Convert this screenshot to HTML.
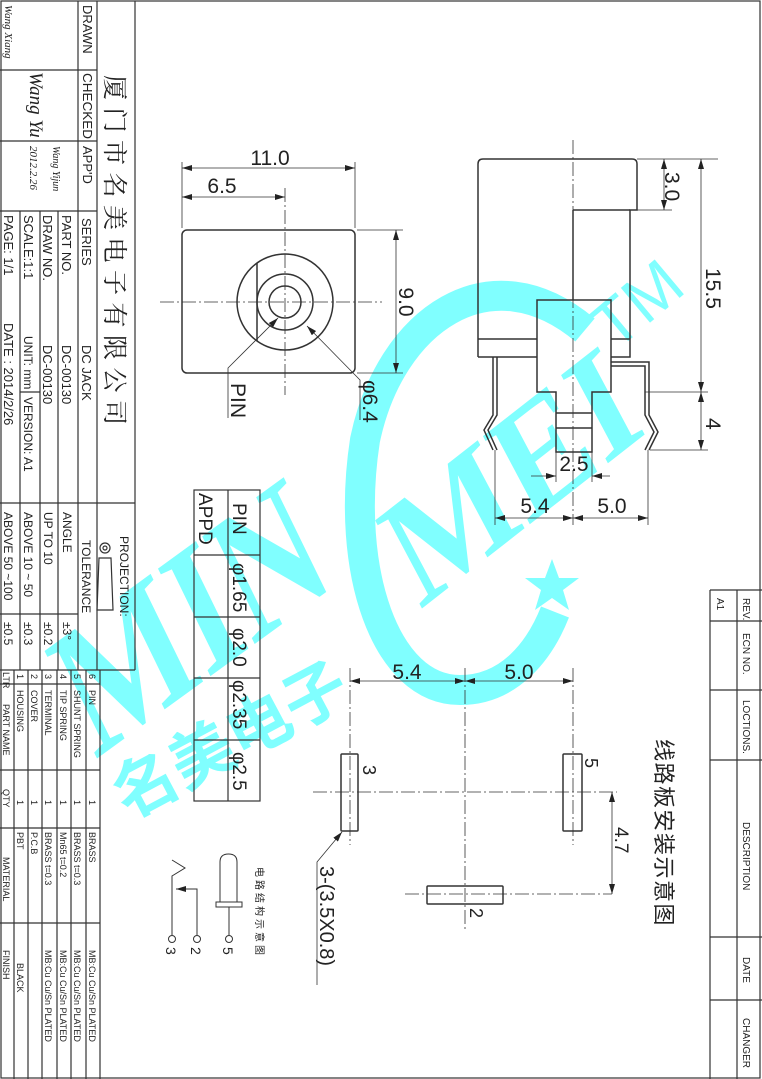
<!DOCTYPE html>
<html><head><meta charset="utf-8"><style>
html,body{margin:0;padding:0;background:#fff}
svg{display:block}
text{font-family:"Liberation Sans","Noto Sans CJK SC",sans-serif;fill:#222}
</style></head><body>
<svg width="762" height="1079" viewBox="0 0 762 1079" xmlns="http://www.w3.org/2000/svg">
<defs>
<marker id="a" viewBox="0 0 10 6" refX="10" refY="3" markerWidth="10" markerHeight="6" orient="auto-start-reverse" markerUnits="userSpaceOnUse"><path d="M0,0 L10,3 L0,6z" fill="#222"/></marker>
</defs>
<!-- watermark -->
<g fill="#80ffff">
<text x="0" y="0" font-weight="bold" font-size="180" textLength="300" lengthAdjust="spacingAndGlyphs" transform="translate(95,760) rotate(-36) skewX(-10)" style="fill:#80ffff;font-family:'Liberation Serif',serif">MIN</text>
<text x="0" y="0" font-weight="bold" font-size="150" textLength="290" lengthAdjust="spacingAndGlyphs" transform="translate(420,610) rotate(-38) skewX(-10)" style="fill:#80ffff;font-family:'Liberation Serif',serif">MEI</text>
<text x="0" y="0" font-size="66" transform="translate(615,352) rotate(-40)" style="fill:#80ffff">TM</text>
<text x="0" y="0" font-size="64" font-weight="bold" transform="translate(128,820) rotate(-28)" style="fill:#80ffff;font-family:'Noto Sans CJK SC',sans-serif">名美电子</text>
<path d="M552,559 L559,578 L579,578 L563,590 L569,610 L552,598 L535,610 L541,590 L525,578 L545,578z"/>
</g>
<path d="M585,330 C490,250 390,320 365,440 C345,570 385,690 460,690 C510,690 540,650 555,612" fill="none" stroke="#80ffff" stroke-width="30"/>

<g stroke="#333" fill="none" stroke-width="1.2">
<rect x="1" y="1" width="759" height="1077"/>
<line x1="135" y1="1" x2="135" y2="670"/>
<line x1="97" y1="1" x2="97" y2="670"/>
<line x1="78" y1="1" x2="78" y2="670"/>
<line x1="0" y1="70" x2="97" y2="70"/>
<line x1="0" y1="141" x2="97" y2="141"/>
<line x1="0" y1="211" x2="97" y2="211"/>
<line x1="58" y1="211" x2="58" y2="670"/>
<line x1="40" y1="211" x2="40" y2="670"/>
<line x1="20" y1="211" x2="20" y2="670"/>
<line x1="20" y1="392" x2="40" y2="392"/>
<line x1="0" y1="503" x2="135" y2="503"/>
<line x1="0" y1="614" x2="78" y2="614"/>
<line x1="0" y1="670" x2="135" y2="670"/>
<line x1="100" y1="670" x2="100" y2="1079"/>
<line x1="14" y1="670" x2="14" y2="1079"/>
<line x1="28" y1="670" x2="28" y2="1079"/>
<line x1="42" y1="670" x2="42" y2="1079"/>
<line x1="57" y1="670" x2="57" y2="1079"/>
<line x1="71" y1="670" x2="71" y2="1079"/>
<line x1="86" y1="670" x2="86" y2="1079"/>
<line x1="0" y1="684" x2="100" y2="684"/>
<line x1="0" y1="770" x2="100" y2="770"/>
<line x1="0" y1="828" x2="100" y2="828"/>
<line x1="0" y1="923" x2="100" y2="923"/>
<line x1="710" y1="590" x2="710" y2="1079"/>
<line x1="737" y1="590" x2="737" y2="1079"/>
<line x1="710" y1="590" x2="762" y2="590"/>
<line x1="710" y1="621" x2="762" y2="621"/>
<line x1="710" y1="690" x2="762" y2="690"/>
<line x1="710" y1="760" x2="762" y2="760"/>
<line x1="710" y1="937" x2="762" y2="937"/>
<line x1="710" y1="1000" x2="762" y2="1000"/>
<rect x="194" y="490" width="66" height="311"/>
<line x1="228" y1="490" x2="228" y2="801"/>
<line x1="194" y1="555" x2="260" y2="555"/>
<line x1="194" y1="617" x2="260" y2="617"/>
<line x1="194" y1="678" x2="260" y2="678"/>
<line x1="194" y1="740" x2="260" y2="740"/>
<circle cx="105" cy="548" r="5"/><circle cx="105" cy="548" r="2"/>
<path d="M99,558 L111,558 L113,610 L97,610z"/>
</g>

<!-- front view -->
<g stroke="#333" fill="none" stroke-width="1.5">
<rect x="182" y="230" width="173" height="143" rx="5"/>
<circle cx="285" cy="302" r="48"/>
<circle cx="285" cy="302" r="28"/>
<circle cx="285" cy="302" r="16"/>
<line x1="257" y1="263" x2="257" y2="341"/>
</g>
<g stroke="#333" stroke-width="0.8" fill="none">
<line x1="160" y1="302" x2="382" y2="302" stroke-dasharray="14 3 2 3"/>
<line x1="285" y1="188" x2="285" y2="395" stroke-dasharray="14 3 2 3"/>
<line x1="182" y1="162" x2="182" y2="228"/>
<line x1="355" y1="162" x2="355" y2="228"/>
<line x1="182" y1="168" x2="355" y2="168" marker-start="url(#a)" marker-end="url(#a)"/>
<line x1="182" y1="197" x2="285" y2="197" marker-start="url(#a)" marker-end="url(#a)"/>
<line x1="357" y1="230" x2="403" y2="230"/>
<line x1="357" y1="373" x2="403" y2="373"/>
<line x1="396" y1="230" x2="396" y2="373" marker-start="url(#a)" marker-end="url(#a)"/>
<polyline points="228,418 228,368 278,318" marker-end="url(#a)"/>
<polyline points="360,420 360,380 307,326" marker-end="url(#a)"/>
</g>
<g font-size="21">
<text x="270" y="165" text-anchor="middle">11.0</text>
<text x="222" y="193" text-anchor="middle">6.5</text>
<text transform="translate(399,302) rotate(90)" text-anchor="middle">9.0</text>
<text transform="translate(231,383) rotate(90)">PIN</text>
<text transform="translate(363,380) rotate(90)">φ6.4</text>
</g>

<!-- side view -->
<g stroke="#333" fill="none" stroke-width="1.5">
<path d="M478,357 V164 Q478,159 483,159 H632 Q637,159 637,164 V210 H630 V357 H611"/>
<path d="M478,357 H537"/>
<line x1="573" y1="210" x2="630" y2="210"/>
<line x1="573" y1="210" x2="573" y2="300"/>
<line x1="478" y1="339" x2="537" y2="339"/>
<line x1="611" y1="339" x2="630" y2="339"/>
<path d="M537,300 H611 V392 H592 V452 H556 V392 H537z"/>
<line x1="556" y1="413" x2="592" y2="413"/>
<line x1="556" y1="428" x2="592" y2="428"/>
<path d="M493,357 V415 L484,430 L493,450"/>
<path d="M497,357 V415 L488,430 L497,450"/>
<path d="M611,362 H649 V415 L658,432 L649,450"/>
<path d="M611,366 H645 V415 L654,432 L645,450"/>
</g>
<g stroke="#333" stroke-width="0.8" fill="none">
<line x1="573" y1="140" x2="573" y2="525" stroke-dasharray="14 3 2 3"/>
<line x1="637" y1="159" x2="718" y2="159"/>
<line x1="637" y1="210" x2="672" y2="210"/>
<line x1="664" y1="159" x2="664" y2="210" marker-start="url(#a)" marker-end="url(#a)"/>
<line x1="701" y1="159" x2="701" y2="392" marker-start="url(#a)" marker-end="url(#a)"/>
<line x1="645" y1="392" x2="708" y2="392"/>
<line x1="650" y1="450" x2="708" y2="450"/>
<line x1="701" y1="392" x2="701" y2="450" marker-start="url(#a)" marker-end="url(#a)"/>
<line x1="556" y1="452" x2="556" y2="482"/>
<line x1="592" y1="452" x2="592" y2="482"/>
<line x1="531" y1="476" x2="556" y2="476" marker-end="url(#a)"/>
<line x1="610" y1="476" x2="592" y2="476" marker-end="url(#a)"/>
<line x1="495" y1="450" x2="495" y2="525"/>
<line x1="648" y1="450" x2="648" y2="525"/>
<line x1="495" y1="518" x2="573" y2="518" marker-start="url(#a)" marker-end="url(#a)"/>
<line x1="573" y1="518" x2="648" y2="518" marker-start="url(#a)" marker-end="url(#a)"/>
</g>
<g font-size="21">
<text transform="translate(665,172) rotate(90)">3.0</text>
<text transform="translate(706,268) rotate(90)">15.5</text>
<text transform="translate(706,418) rotate(90)">4</text>
<text x="574" y="471" text-anchor="middle">2.5</text>
<text x="535" y="513" text-anchor="middle">5.4</text>
<text x="612" y="513" text-anchor="middle">5.0</text>
</g>

<!-- PCB layout -->
<g stroke="#333" stroke-width="0.8" fill="none">
<line x1="350" y1="668" x2="350" y2="845" stroke-dasharray="14 3 2 3"/>
<line x1="465" y1="668" x2="465" y2="932" stroke-dasharray="14 3 2 3"/>
<line x1="573" y1="668" x2="573" y2="845" stroke-dasharray="14 3 2 3"/>
<line x1="313" y1="792" x2="617" y2="792" stroke-dasharray="14 3 2 3"/>
<line x1="405" y1="894" x2="612" y2="894" stroke-dasharray="14 3 2 3"/>
<line x1="350" y1="681" x2="465" y2="681" marker-start="url(#a)" marker-end="url(#a)"/>
<line x1="465" y1="681" x2="573" y2="681" marker-start="url(#a)" marker-end="url(#a)"/>
<line x1="612" y1="792" x2="612" y2="894" marker-start="url(#a)" marker-end="url(#a)"/>
<polyline points="317,985 317,862 342,832" marker-end="url(#a)"/>
</g>
<g stroke="#333" stroke-width="1.5" fill="none">
<rect x="341" y="754" width="17" height="77" rx="1"/>
<rect x="563" y="754" width="19" height="77" rx="1"/>
<rect x="427" y="886" width="76" height="18" rx="1"/>
</g>
<g font-size="21">
<text x="407" y="679" text-anchor="middle">5.4</text>
<text x="519" y="679" text-anchor="middle">5.0</text>
<text transform="translate(363,765) rotate(90)" font-size="18">3</text>
<text transform="translate(585,758) rotate(90)" font-size="18">5</text>
<text transform="translate(470,908) rotate(90)" font-size="18">2</text>
<text transform="translate(615,827) rotate(90)" font-size="19">4.7</text>
<text transform="translate(320,866) rotate(90)" font-size="20">3-(3.5X0.8)</text>
<text transform="translate(656,739) rotate(90)" font-size="22" letter-spacing="1.5">线路板安装示意图</text>
</g>

<!-- schematic -->
<g stroke="#333" stroke-width="1" fill="none">
<circle cx="172" cy="939" r="3.5"/><circle cx="197" cy="939" r="3.5"/><circle cx="229" cy="939" r="3.5"/>
<polyline points="172,935 172,876 185,868 172,860"/>
<polyline points="197,935 197,889 176,889" marker-end="url(#a)"/>
<path d="M220,902 V862 Q220,854 228.5,854 Q237,854 237,862 V902"/>
<rect x="216" y="902" width="26" height="5"/>
<line x1="229" y1="907" x2="229" y2="935"/>
</g>
<g font-size="14">
<text transform="translate(166,947) rotate(90)">3</text>
<text transform="translate(191,947) rotate(90)">2</text>
<text transform="translate(223,947) rotate(90)">5</text>
<text transform="translate(256,867) rotate(90)" font-size="10" letter-spacing="3">电路结构示意图</text>
</g>

<!-- pin table text -->
<g font-size="19">
<text transform="translate(233,503) rotate(90)">PIN</text>
<text transform="translate(199,493) rotate(90)">APPD</text>
<text transform="translate(233,563) rotate(90)">φ1.65</text>
<text transform="translate(233,628) rotate(90)">φ2.0</text>
<text transform="translate(233,680) rotate(90)">φ2.35</text>
<text transform="translate(233,752) rotate(90)">φ2.5</text>
</g>

<!-- title block text -->
<g font-size="13">
<text transform="translate(83,5) rotate(90)">DRAWN</text>
<text transform="translate(83,73) rotate(90)" textLength="66" lengthAdjust="spacingAndGlyphs">CHECKED</text>
<text transform="translate(83,146) rotate(90)">APP'D</text>
<text transform="translate(106,75) rotate(90)" font-size="25" letter-spacing="7.5" style="font-family:'Noto Serif CJK SC','Noto Sans CJK SC',serif">厦门市名美电子有限公司</text>
<text transform="translate(5,5) rotate(90)" font-size="11" font-style="italic" style="font-family:'Liberation Serif',serif">Wang Xiang</text>
<text transform="translate(30,72) rotate(90)" font-size="19" font-style="italic" style="font-family:'Liberation Serif',serif">Wang Yu</text>
<text transform="translate(53,146) rotate(90)" font-size="10" font-style="italic" style="font-family:'Liberation Serif',serif">Wang Yijun</text>
<text transform="translate(30,146) rotate(90)" font-size="11" font-style="italic" style="font-family:'Liberation Serif',serif">2012.2.26</text>
<text transform="translate(82,218) rotate(90)">SERIES</text>
<text transform="translate(62,215) rotate(90)">PART  NO.</text>
<text transform="translate(43,215) rotate(90)">DRAW NO.</text>
<text transform="translate(24,215) rotate(90)">SCALE:1:1</text>
<text transform="translate(4,215) rotate(90)">PAGE:  1/1</text>
<text transform="translate(82,345) rotate(90)">DC  JACK</text>
<text transform="translate(62,345) rotate(90)">DC-00130</text>
<text transform="translate(43,345) rotate(90)">DC-00130</text>
<text transform="translate(24,336) rotate(90)" font-size="12">UNIT: mm</text>
<text transform="translate(24,397) rotate(90)" font-size="12">VERSION: A1</text>
<text transform="translate(4,323) rotate(90)">DATE : 2014/2/26</text>
<text transform="translate(120,536) rotate(90)" font-size="12">PROJECTION:</text>
<text transform="translate(82,540) rotate(90)" font-size="12">TOLERANCE</text>
<text transform="translate(63,512) rotate(90)" font-size="12">ANGLE</text>
<text transform="translate(44,512) rotate(90)" font-size="12">UP TO 10</text>
<text transform="translate(24,512) rotate(90)" font-size="12">ABOVE 10 ~ 50</text>
<text transform="translate(4,512) rotate(90)" font-size="12">ABOVE 50 ~100</text>
<text transform="translate(63,622) rotate(90)" font-size="12">±3°</text>
<text transform="translate(44,622) rotate(90)" font-size="12">±0.2</text>
<text transform="translate(24,622) rotate(90)" font-size="12">±0.3</text>
<text transform="translate(4,622) rotate(90)" font-size="12">±0.5</text>
</g>

<!-- BOM text -->
<g font-size="9">
<text transform="translate(3,672) rotate(90)">LTR</text>
<text transform="translate(3,704) rotate(90)">PART NAME</text>
<text transform="translate(3,789) rotate(90)">QTY</text>
<text transform="translate(3,857) rotate(90)">MATERIAL</text>
<text transform="translate(3,950) rotate(90)">FINISH</text>
<text transform="translate(17,674) rotate(90)">1</text>
<text transform="translate(17,690) rotate(90)">HOUSING</text>
<text transform="translate(17,800) rotate(90)">1</text>
<text transform="translate(17,832) rotate(90)">PBT</text>
<text transform="translate(17,963) rotate(90)">BLACK</text>
<text transform="translate(31,674) rotate(90)">2</text>
<text transform="translate(31,690) rotate(90)">COVER</text>
<text transform="translate(31,800) rotate(90)">1</text>
<text transform="translate(31,832) rotate(90)">P.C.B</text>
<text transform="translate(45,674) rotate(90)">3</text>
<text transform="translate(45,690) rotate(90)">TERMINAL</text>
<text transform="translate(45,800) rotate(90)">1</text>
<text transform="translate(45,832) rotate(90)">BRASS  t=0.3</text>
<text transform="translate(45,950) rotate(90)">MB:Cu   Cu/Sn  PLATED</text>
<text transform="translate(60,674) rotate(90)">4</text>
<text transform="translate(60,690) rotate(90)">TIP  SPRING</text>
<text transform="translate(60,800) rotate(90)">1</text>
<text transform="translate(60,832) rotate(90)">Mn65  t=0.2</text>
<text transform="translate(60,950) rotate(90)">MB:Cu   Cu/Sn  PLATED</text>
<text transform="translate(74,674) rotate(90)">5</text>
<text transform="translate(74,690) rotate(90)">SHUNT  SPRING</text>
<text transform="translate(74,800) rotate(90)">1</text>
<text transform="translate(74,832) rotate(90)">BRASS  t=0.3</text>
<text transform="translate(74,950) rotate(90)">MB:Cu   Cu/Sn  PLATED</text>
<text transform="translate(89,674) rotate(90)">6</text>
<text transform="translate(89,690) rotate(90)">PIN</text>
<text transform="translate(89,800) rotate(90)">1</text>
<text transform="translate(89,832) rotate(90)">BRASS</text>
<text transform="translate(89,950) rotate(90)">MB:Cu   Cu/Sn  PLATED</text>
</g>

<g font-size="10">
<text transform="translate(743,598) rotate(90)">REV.</text>
<text transform="translate(743,633) rotate(90)">ECN NO.</text>
<text transform="translate(743,700) rotate(90)">LOCTIONS.</text>
<text transform="translate(743,822) rotate(90)">DESCRIPTION</text>
<text transform="translate(743,957) rotate(90)">DATE</text>
<text transform="translate(743,1018) rotate(90)">CHANGER</text>
<text transform="translate(717,598) rotate(90)">A1</text>
</g>
</svg>
</body></html>
